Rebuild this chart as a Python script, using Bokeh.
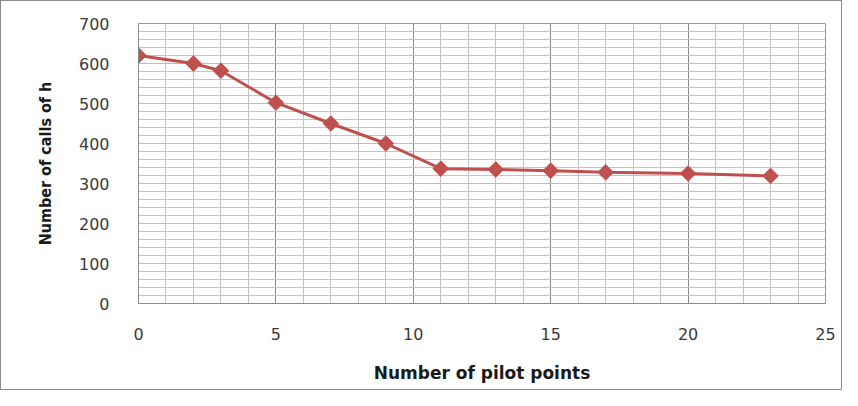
import math
from bokeh.plotting import figure
from bokeh.models import FixedTicker, Range1d
from bokeh.embed import file_html
from bokeh.resources import INLINE

pilot_points = [0, 2, 3, 5, 7, 9, 11, 13, 15, 17, 20, 23]
calls_of_h = [620, 600, 582, 502, 450, 400, 337, 335, 332, 328, 325, 319]
x_ticks = [0, 5, 10, 15, 20, 25]
y_ticks = [0, 100, 200, 300, 400, 500, 600, 700]

p = figure(width=842, height=390, output_backend="svg", toolbar_location=None,
           x_range=Range1d(0, 25), y_range=Range1d(0, 700),
           min_border_left=137, min_border_right=18, min_border_top=22, min_border_bottom=88)
p.styles = {"border": "1px solid #8c8c8c", "box-sizing": "border-box"}
p.background_fill_color = "white"
p.border_fill_color = "white"
p.outline_line_color = "#9a9a9a"
p.outline_line_width = 1

p.xaxis.ticker = FixedTicker(ticks=x_ticks, minor_ticks=list(range(0, 26)))
p.yaxis.ticker = FixedTicker(ticks=y_ticks, minor_ticks=list(range(0, 701, 20)))

p.xgrid.grid_line_color = "#8a8a8a"
p.xgrid.grid_line_width = 1
p.xgrid.minor_grid_line_color = "#c4c4c4"
p.xgrid.minor_grid_line_width = 1
p.ygrid.grid_line_color = "#bdbdbd"
p.ygrid.minor_grid_line_color = "#c4c4c4"

for ax in (p.xaxis, p.yaxis):
    ax.axis_line_color = "#8a8a8a"
    ax.major_tick_line_color = None
    ax.minor_tick_line_color = None
    ax.major_label_text_font = "DejaVu Sans"
    ax.major_label_text_font_size = "16px"
    ax.major_label_text_color = "#3a3a3a"
    ax.axis_label_text_font_style = "bold"
    ax.axis_label_text_color = "#1a1a1a"

p.xaxis.major_label_standoff = 18
p.yaxis.major_label_standoff = 23
p.xaxis.axis_label = "Number of pilot points"
p.xaxis.axis_label_text_font = "DejaVu Sans"
p.xaxis.axis_label_text_font_size = "17px"
p.xaxis.axis_label_standoff = 20
p.yaxis.axis_label = "Number of calls of h"
p.yaxis.axis_label_text_font = "DejaVu Sans Condensed"
p.yaxis.axis_label_text_font_size = "16px"
p.yaxis.axis_label_standoff = 21

p.line(pilot_points, calls_of_h, line_color="#C0504D", line_width=3)
p.scatter(pilot_points, calls_of_h, marker="square", size=11, angle=math.pi / 4,
          fill_color="#C0504D", line_color="#C0504D")

open("out.html", "w").write(file_html(p, INLINE))
